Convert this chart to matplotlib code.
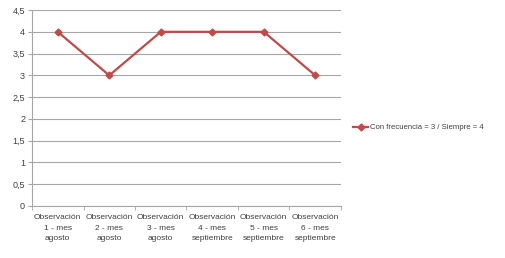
import matplotlib
matplotlib.use('Agg')
import matplotlib.pyplot as plt

categorias = ['Observación\n1 - mes\nagosto', 'Observación\n2 - mes\nagosto', 'Observación\n3 - mes\nagosto',
              'Observación\n4 - mes\nseptiembre', 'Observación\n5 - mes\nseptiembre', 'Observación\n6 - mes\nseptiembre']
valores = [4, 3, 4, 4, 4, 3]
y_ticks = [0, 0.5, 1, 1.5, 2, 2.5, 3, 3.5, 4, 4.5]
serie = 'Con frecuencia = 3 / Siempre = 4'

plt.rcParams['font.family'] = ['Liberation Sans', 'DejaVu Sans']

fig = plt.figure(figsize=(5.05, 2.58), dpi=100)
ax = fig.add_axes([0.0634, 0.2016, 0.6118, 0.7594])

x = list(range(len(valores)))
ax.plot(x, valores, color='#BE4B48', lw=1.6, marker='D', ms=3.5, label=serie)

ax.set_xlim(-0.5, len(valores) - 0.5)
ax.set_ylim(0, 4.5)
ax.set_yticks(y_ticks)
ax.set_yticklabels([('%g' % v).replace('.', ',') for v in y_ticks], fontsize=6.5, color='#404040')
ax.yaxis.grid(True, color='#A6A6A6', lw=0.8)
ax.set_axisbelow(True)

ax.set_xticks(x)
ax.set_xticklabels(categorias, fontsize=6, color='#404040', linespacing=1.7)
ax.tick_params(axis='x', length=0, pad=6)
ax.set_xticks([i - 0.5 for i in range(len(valores) + 1)], minor=True)
ax.tick_params(axis='x', which='minor', length=3, color='#A6A6A6')
ax.tick_params(axis='y', length=3, color='#A6A6A6', pad=2)

for s in ['top', 'right']:
    ax.spines[s].set_visible(False)
ax.spines['left'].set_color('#A6A6A6')
ax.spines['bottom'].set_color('#A6A6A6')

fig.legend(loc='center left', bbox_to_anchor=(0.685, 0.505), frameon=False, fontsize=5.6,
           handlelength=2.0, handletextpad=0.15, labelcolor='#404040')

fig.savefig('out.png', dpi=100)
